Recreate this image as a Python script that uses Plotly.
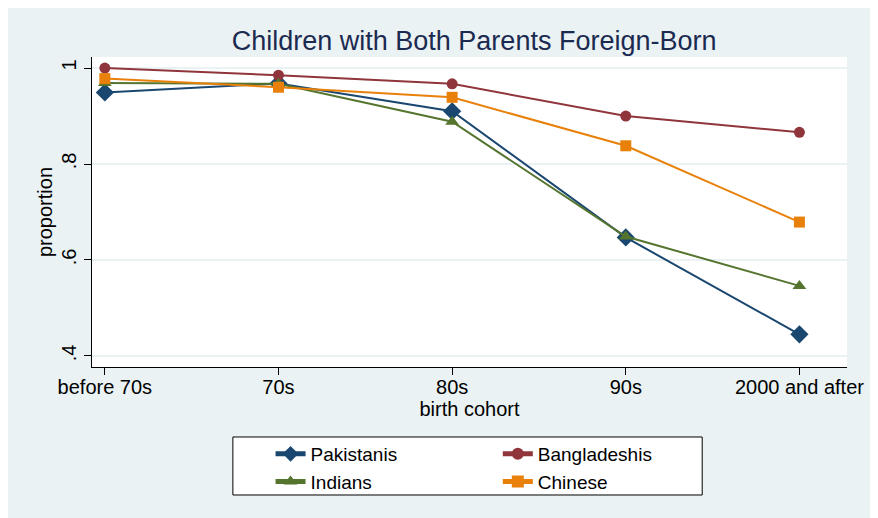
import plotly.graph_objects as go

cohorts = ["before 70s", "70s", "80s", "90s", "2000 and after"]
pakistanis = [0.949, 0.968, 0.910, 0.647, 0.445]
bangladeshis = [1.000, 0.985, 0.967, 0.900, 0.866]
indians = [0.969, 0.967, 0.888, 0.649, 0.546]
chinese = [0.978, 0.960, 0.939, 0.838, 0.679]
y_ticks = [0.4, 0.6, 0.8, 1.0]
y_tick_labels = [".4", ".6", ".8", "1"]

xpos = list(range(len(cohorts)))

series = [
    ("Pakistanis", pakistanis, "#1a476f", "diamond", 14, "legend"),
    ("Bangladeshis", bangladeshis, "#90353b", "circle", 11, "legend2"),
    ("Indians", indians, "#55752f", "triangle-up", 12, "legend"),
    ("Chinese", chinese, "#e8800a", "square", 11, "legend2"),
]

fig = go.Figure()
for name, vals, color, sym, size, leg in series:
    fig.add_trace(go.Scatter(
        x=xpos, y=vals, name=name, mode="lines+markers",
        line=dict(color=color, width=2),
        marker=dict(symbol=sym, size=size, color=color),
        legend=leg,
    ))

FONT = "Liberation Sans, Arial, sans-serif"
BG = "#eaf2f3"

leg_common = dict(orientation="v", yanchor="top", xanchor="left", y=-0.2194,
                  bgcolor="rgba(0,0,0,0)", borderwidth=0, itemsizing="constant",
                  font=dict(size=19), tracegroupgap=0, traceorder="normal")

fig.update_layout(
    width=868, height=510,
    margin=dict(l=84, r=23, t=49, b=151),
    paper_bgcolor=BG, plot_bgcolor="white",
    font=dict(family=FONT, size=20, color="black"),
    title=dict(text="Children with Both Parents Foreign-Born",
               x=0.537, xanchor="center", y=0.937, yanchor="middle",
               font=dict(size=27, color="#1b2a50")),
    showlegend=True,
    legend=dict(x=0.2365, **leg_common),
    legend2=dict(x=0.5375, **leg_common),
    shapes=[dict(type="rect", xref="paper", yref="paper",
                 x0=0.1866, x1=0.8082, y0=-0.4129, y1=-0.2258,
                 fillcolor="white", line=dict(color="black", width=1))],
    xaxis=dict(range=[-0.074, 4.274], tickvals=xpos, ticktext=cohorts,
               showgrid=False, zeroline=False, showline=True, linecolor="black",
               linewidth=1, ticks="outside", ticklen=7, tickcolor="black",
               ticklabelstandoff=-5,
               title=dict(text="birth cohort", standoff=2, font=dict(size=20)),
               tickfont=dict(size=20)),
    yaxis=dict(range=[0.377, 1.023], tickvals=y_ticks, ticktext=y_tick_labels,
               showgrid=True, gridcolor=BG, gridwidth=1.5, zeroline=False,
               showline=True, linecolor="black", linewidth=1,
               ticks="outside", ticklen=7, tickcolor="black", tickangle=-90,
               title=dict(text="proportion", standoff=0, font=dict(size=20)),
               tickfont=dict(size=20)),
)

fig.write_html("out.html")
